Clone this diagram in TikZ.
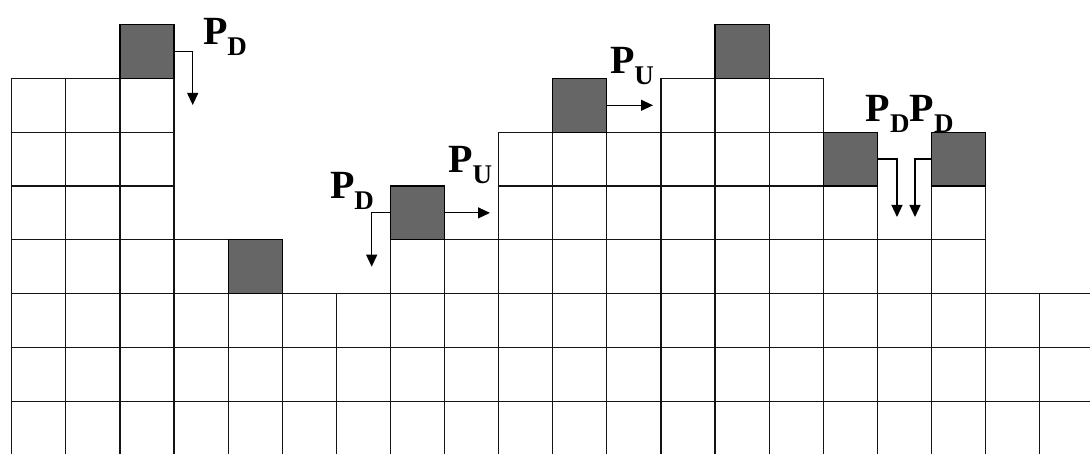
\documentclass[tikz,border=0pt]{standalone}
\usepackage{fontspec}
\setmainfont{Liberation Serif}
\usetikzlibrary{arrows.meta}
\newcommand{\labPD}{{\fontsize{40}{40}\selectfont\bfseries P}\raisebox{-11pt}{\fontsize{27}{27}\selectfont\bfseries D}}
\newcommand{\labPU}{{\fontsize{40}{40}\selectfont\bfseries P}\raisebox{-11pt}{\fontsize{27}{27}\selectfont\bfseries U}}
\begin{document}
\begin{tikzpicture}[x=1pt,y=1pt,
  cell/.style={draw=black!92, line width=1.2pt, minimum width=54.1pt, minimum height=53.8pt, inner sep=0pt, outer sep=0pt, fill=white},
  shaded/.style={cell, fill=black!60, draw=black},
  arr/.style={draw=black, line width=1.2pt, -{Triangle[width=11pt,length=12pt]}},
  lab/.style={anchor=base west, inner sep=0pt, outer sep=0pt}]
\useasboundingbox (0,0) rectangle (1090,454);
\clip (0,0) rectangle (1090,454);
\def\cw{54.1}\def\ch{53.8}\def\xo{11.7}\def\yo{-1}
\foreach \h [count=\i from 0] in {7,7,7,4,3,3,3,4,4,6,6,6,7,7,7,5,4,5,3,3} {
  \foreach \j in {1,...,\h} {
    \node[cell] (c-\i-\j) at ({\xo+\cw*(\i+0.5)},{\yo+\ch*(\j-0.5)}) {};
  }
}
\foreach \i/\j/\n in {2/7/s2, 4/3/s4, 7/4/s7, 10/6/s10, 13/7/s13, 15/5/s15, 17/5/s17} {
  \node[shaded] (\n) at ({\xo+\cw*(\i+0.5)},{\yo+\ch*(\j+0.5)}) {};
}
\coordinate (a1) at (192.7,349);
\coordinate (a2) at (371.7,187.3);
\coordinate (a3) at (490,239);
\coordinate (a4) at (653,346);
\coordinate (a5) at (897,237);
\coordinate (a6) at (915,237);
\draw[arr] (s2.east) -| (a1);
\draw[arr] (s7.west) -| (a2);
\draw[arr] (s7.east) -- (s7.east -| a3);
\draw[arr] (s10.east) -- (s10.east -| a4);
\draw[arr] (s15.east) -| (a5);
\draw[arr] (s17.west) -| (a6);
\node[lab] (l1) at (203,409.5) {\labPD};
\node[lab] (l2) at (330,255) {\labPD};
\node[lab] (l3) at (448.3,281.3) {\labPU};
\node[lab] (l4) at (610,380.7) {\labPU};
\node[lab] (l5) at (865.7,332.3) {\labPD\labPD};
\end{tikzpicture}
\end{document}
